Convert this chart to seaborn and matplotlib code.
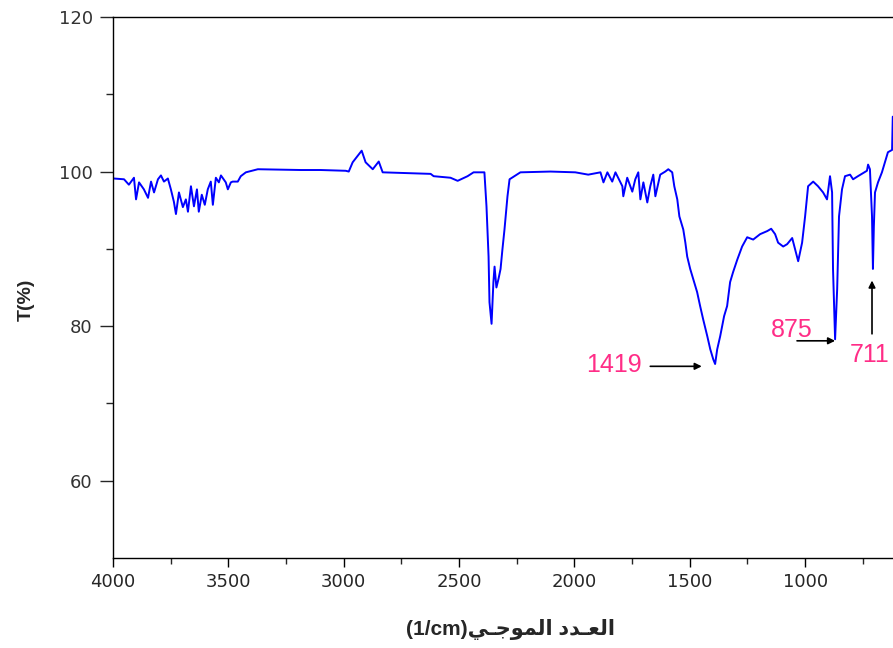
import numpy as np
import pandas as pd
import matplotlib
matplotlib.use("Agg")
import matplotlib.pyplot as plt
import seaborn as sns

# wavenumber (1/cm) and transmittance (%)
wavenumber = [3996, 3952, 3931, 3909, 3900, 3887, 3866, 3848, 3835, 3822, 3805, 3792,
              3779, 3762, 3749, 3736, 3727, 3714, 3697, 3684, 3675, 3662, 3649, 3636,
              3628, 3615, 3602, 3589, 3576, 3567, 3554, 3541, 3532, 3511, 3502, 3489,
              3481, 3459, 3446, 3424, 3372, 3186, 3100, 2991, 2978, 2961, 2935, 2922,
              2905, 2874, 2848, 2831, 2623, 2610, 2537, 2506, 2463, 2437, 2390, 2381,
              2372, 2368, 2359, 2351, 2346, 2338, 2329, 2320, 2312, 2303, 2290, 2281,
              2234, 2104, 1996, 1940, 1887, 1874, 1857, 1836, 1822, 1792, 1788, 1771,
              1749, 1736, 1723, 1714, 1701, 1684, 1671, 1658, 1649, 1628, 1606, 1593,
              1576, 1567, 1554, 1545, 1528, 1519, 1511, 1498, 1485, 1468, 1455, 1442,
              1424, 1411, 1398, 1390, 1381, 1368, 1351, 1338, 1325, 1312, 1294, 1273,
              1251, 1225, 1195, 1164, 1147, 1130, 1117, 1095, 1078, 1056, 1043, 1030,
              1013, 1000, 987, 965, 944, 922, 905, 892, 883, 879, 870, 861, 853, 840,
              827, 805, 792, 771, 732, 727, 719, 710, 706, 702, 697, 684, 667, 654,
              641, 623, 620]
transmittance = [99.1, 99.0, 98.3, 99.2, 96.4, 98.6, 97.7, 96.6, 98.7, 97.3, 99.0, 99.5,
                 98.7, 99.1, 97.7, 96.1, 94.5, 97.3, 95.4, 96.4, 94.8, 98.1, 95.5, 97.7,
                 94.8, 97.0, 95.7, 97.7, 98.7, 95.7, 99.2, 98.6, 99.5, 98.6, 97.7, 98.6,
                 98.7, 98.7, 99.4, 99.9, 100.3, 100.2, 100.2, 100.1, 100.0, 101.2, 102.2, 102.7,
                 101.2, 100.3, 101.3, 99.9, 99.7, 99.4, 99.2, 98.8, 99.4, 99.9, 99.9, 95.5,
                 89.0, 83.1, 80.3, 85.7, 87.7, 85.0, 86.1, 87.4, 89.9, 92.5, 96.8, 99.0,
                 99.9, 100.0, 99.9, 99.6, 99.9, 98.6, 99.9, 98.7, 99.9, 98.1, 96.8, 99.2,
                 97.4, 99.0, 99.9, 96.4, 98.6, 96.0, 98.1, 99.6, 96.8, 99.6, 100.0, 100.3,
                 99.9, 98.1, 96.4, 94.2, 92.5, 90.8, 89.0, 87.4, 86.1, 84.4, 82.6, 80.9,
                 78.7, 77.0, 75.7, 75.1, 77.0, 78.7, 81.3, 82.6, 85.7, 87.0, 88.6, 90.3,
                 91.5, 91.2, 91.9, 92.3, 92.6, 91.9, 90.8, 90.3, 90.6, 91.4, 89.9, 88.4,
                 90.8, 94.2, 98.1, 98.7, 98.1, 97.3, 96.4, 99.4, 97.3, 87.4, 78.3, 84.8,
                 94.2, 97.7, 99.4, 99.6, 99.0, 99.4, 100.1, 100.9, 100.3, 94.2, 87.4, 92.9,
                 97.3, 98.6, 99.9, 101.2, 102.5, 102.8, 107.1]

# annotations: label, text position (x, y), arrow start, arrow end
peak_labels = ["1419", "875", "711"]
label_pos = [(1827, 75.0), (1058, 79.5), (720, 76.3)]
arrow_from = [(1671, 74.8), (1035, 78.1), (710, 79.0)]
arrow_to = [(1448, 74.8), (870, 78.1), (710, 85.9)]

x_ticks = [4000, 3500, 3000, 2500, 2000, 1500, 1000]
y_ticks = [60, 80, 100, 120]

sns.set_style("ticks")
plt.rcParams["font.family"] = ["Liberation Sans", "DejaVu Sans"]

fig = plt.figure(figsize=(8.93, 6.48), dpi=100)
ax = fig.add_axes([0.1265, 0.1389, 0.8735, 0.8349])

df = pd.DataFrame({"wn": wavenumber, "T": transmittance})
sns.lineplot(data=df, x="wn", y="T", sort=False, estimator=None, color="#0000ff",
             linewidth=1.4, ax=ax)

ax.set_xlim(4000, 619)
ax.set_ylim(50, 120)
ax.set_xticks(x_ticks)
ax.set_xticks([3750, 3250, 2750, 2250, 1750, 1250, 750], minor=True)
ax.set_yticks(y_ticks)
ax.set_yticks([70, 90, 110], minor=True)
ax.tick_params(axis="x", which="major", length=6.5, width=1, pad=4, labelsize=13,
               colors="black", labelcolor="#262626")
ax.tick_params(axis="x", which="minor", length=4.3, width=1)
ax.tick_params(axis="y", which="major", length=9.5, width=1, pad=5, labelsize=13,
               labelcolor="#333333")
ax.tick_params(axis="y", which="minor", length=4.7, width=1)
for lab in ax.get_xticklabels() + ax.get_yticklabels():
    lab.set_family("DejaVu Sans")

for s in ["left", "bottom", "top"]:
    ax.spines[s].set_color("black")
    ax.spines[s].set_linewidth(1.0)
ax.spines["right"].set_visible(False)

ax.set_ylabel("T(%)", fontsize=14, fontweight="bold")
ax.yaxis.set_label_coords(-0.100, 0.477)

ar1 = "\uFEA9\uFEAA\u0640\uFECC\uFEDF\uFE8D"          # العـدد (visual order)
ar2 = "\uFEF2\u0640\uFE9F\uFEEE\uFEE4\uFEDF\uFE8D"    # الموجـي (visual order)
xlabel = "(1/cm)" + ar2 + " " + ar1
ax.set_xlabel(xlabel, fontsize=15, fontweight="bold",
              family=["Liberation Sans", "DejaVu Sans"])
ax.xaxis.set_label_coords(0.509, -0.113)

for lab, pos, a0, a1 in zip(peak_labels, label_pos, arrow_from, arrow_to):
    ax.text(pos[0], pos[1], lab, color="#ff2d87", fontsize=18, ha="center", va="center",
            clip_on=False)
    ax.annotate("", xy=a1, xytext=a0,
                arrowprops=dict(arrowstyle="-|>", color="black", lw=1.2,
                                mutation_scale=10, shrinkA=0, shrinkB=0))

fig.savefig("out.png", dpi=100)
